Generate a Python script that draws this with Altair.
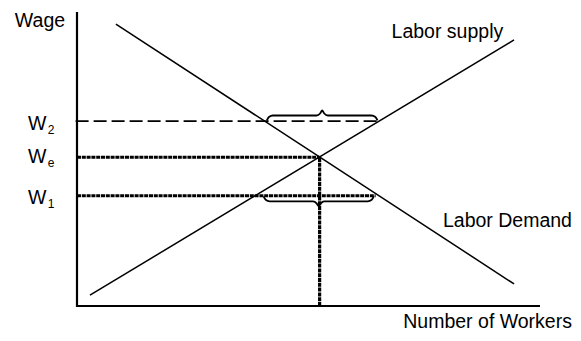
import altair as alt
import pandas as pd

# ---- values (workers 0-100, wage 0-100) ----
demand_x = [8.4, 94.4]
demand_y = [95.9, 7.5]
supply_x = [2.8, 94.4]
supply_y = [3.7, 90.5]

w2 = 62.9          # above-equilibrium wage
we = 50.6          # equilibrium wage
w1 = 37.5          # below-equilibrium wage
le = 52.4          # equilibrium employment

w2_line_x = [-0.3, 65.7]
we_line_x = [0.0, le]
w1_line_x = [0.0, 64.5]

# brace spans (workers)
top_brace_x = [41.0, 64.9]
bot_brace_x = [40.3, 64.1]

axis_x = [0, 0, 100]
axis_y = [100, 0, 0]

labels = ["Wage", "Labor supply", "Labor Demand", "Number of Workers"]
labels_x = [-8.0, 80.0, 106.9, 106.9]
labels_y = [94.9, 91.3, 26.9, -7.6]
labels_align = ["center", "center", "right", "right"]

wlabel = ["W", "W", "W"]
wsub = ["2", "e", "1"]
wlabel_y = [59.9, 48.7, 34.7]
wsub_y = [58.5, 47.4, 33.3]

XD = [-14.903, 107.127]
YD = [-9.184, 101.36]


def X():
    return alt.X("x:Q", scale=alt.Scale(domain=XD, nice=False, zero=False), axis=None)


def Y():
    return alt.Y("y:Q", scale=alt.Scale(domain=YD, nice=False, zero=False), axis=None)


def seg(xs, ys, gid):
    return [{"x": a, "y": b, "g": gid, "o": i} for i, (a, b) in enumerate(zip(xs, ys))]


def brace(x0, x1, yb, d):
    xm = (x0 + x1) / 2
    h = 1.7 * d
    xs = [x0, x0 + 0.45, x0 + 1.3, xm - 1.2, xm - 0.45, xm, xm + 0.45, xm + 1.2, x1 - 1.3, x1 - 0.45, x1]
    ys = [yb, yb + 0.7 * h, yb + h, yb + h, yb + 1.4 * h, yb + 2 * h, yb + 1.4 * h, yb + h, yb + h, yb + 0.7 * h, yb]
    return xs, ys


thin = pd.DataFrame(seg(demand_x, demand_y, "d") + seg(supply_x, supply_y, "s"))
axes = pd.DataFrame(seg(axis_x, axis_y, "a"))
dashed = pd.DataFrame(seg(w2_line_x, [w2, w2], "w2"))
dotted = pd.DataFrame(
    seg(we_line_x, [we, we], "we") + seg(w1_line_x, [w1, w1], "w1") + seg([le, le], [0, we], "v")
)
tb = brace(top_brace_x[0], top_brace_x[1], w2 + 0.2, 1)
bb = brace(bot_brace_x[0], bot_brace_x[1], w1 - 0.2, -1)
braces = pd.DataFrame(seg(tb[0], tb[1], "tb") + seg(bb[0], bb[1], "bb"))

lab_df = pd.DataFrame({"x": labels_x, "y": labels_y, "t": labels, "a": labels_align})
w_df = pd.DataFrame({"x": [-10.6] * 3, "y": wlabel_y, "t": wlabel})
s_df = pd.DataFrame({"x": [-6.3] * 3, "y": wsub_y, "t": wsub})

FONT = "Liberation Sans"

l_thin = alt.Chart(thin).mark_line(color="black", strokeWidth=1.5).encode(
    x=X(), y=Y(), detail="g:N", order="o:Q")
l_axes = alt.Chart(axes).mark_line(color="black", strokeWidth=2.2).encode(
    x=X(), y=Y(), detail="g:N", order="o:Q")
l_dash = alt.Chart(dashed).mark_line(color="black", strokeWidth=1.8, strokeDash=[13, 5]).encode(
    x=X(), y=Y(), detail="g:N", order="o:Q")
l_dot = alt.Chart(dotted).mark_line(color="black", strokeWidth=3.2, strokeDash=[4, 0.8]).encode(
    x=X(), y=Y(), detail="g:N", order="o:Q")
l_brace = alt.Chart(braces).mark_line(color="black", strokeWidth=1.8, interpolate="monotone").encode(
    x=X(), y=Y(), detail="g:N", order="o:Q")

text_layers = []
for al in ["center", "right"]:
    text_layers.append(
        alt.Chart(lab_df[lab_df["a"] == al]).mark_text(
            align=al, baseline="alphabetic", font=FONT, fontSize=19.5, color="black"
        ).encode(x=X(), y=Y(), text="t:N")
    )
t_w = alt.Chart(w_df).mark_text(align="left", baseline="alphabetic", font=FONT, fontSize=19.5,
                                color="black").encode(x=X(), y=Y(), text="t:N")
t_s = alt.Chart(s_df).mark_text(align="left", baseline="alphabetic", font=FONT, fontSize=12,
                                color="black").encode(x=X(), y=Y(), text="t:N")

chart = alt.layer(l_thin, l_axes, l_dash, l_dot, l_brace, *text_layers, t_w, t_s).properties(
    width=565, height=325, autosize=alt.AutoSizeParams(type="none"), padding=0,
    background="white"
).configure_view(stroke=None)

chart.save("out.html", embed_options={"renderer": "svg", "actions": False})
